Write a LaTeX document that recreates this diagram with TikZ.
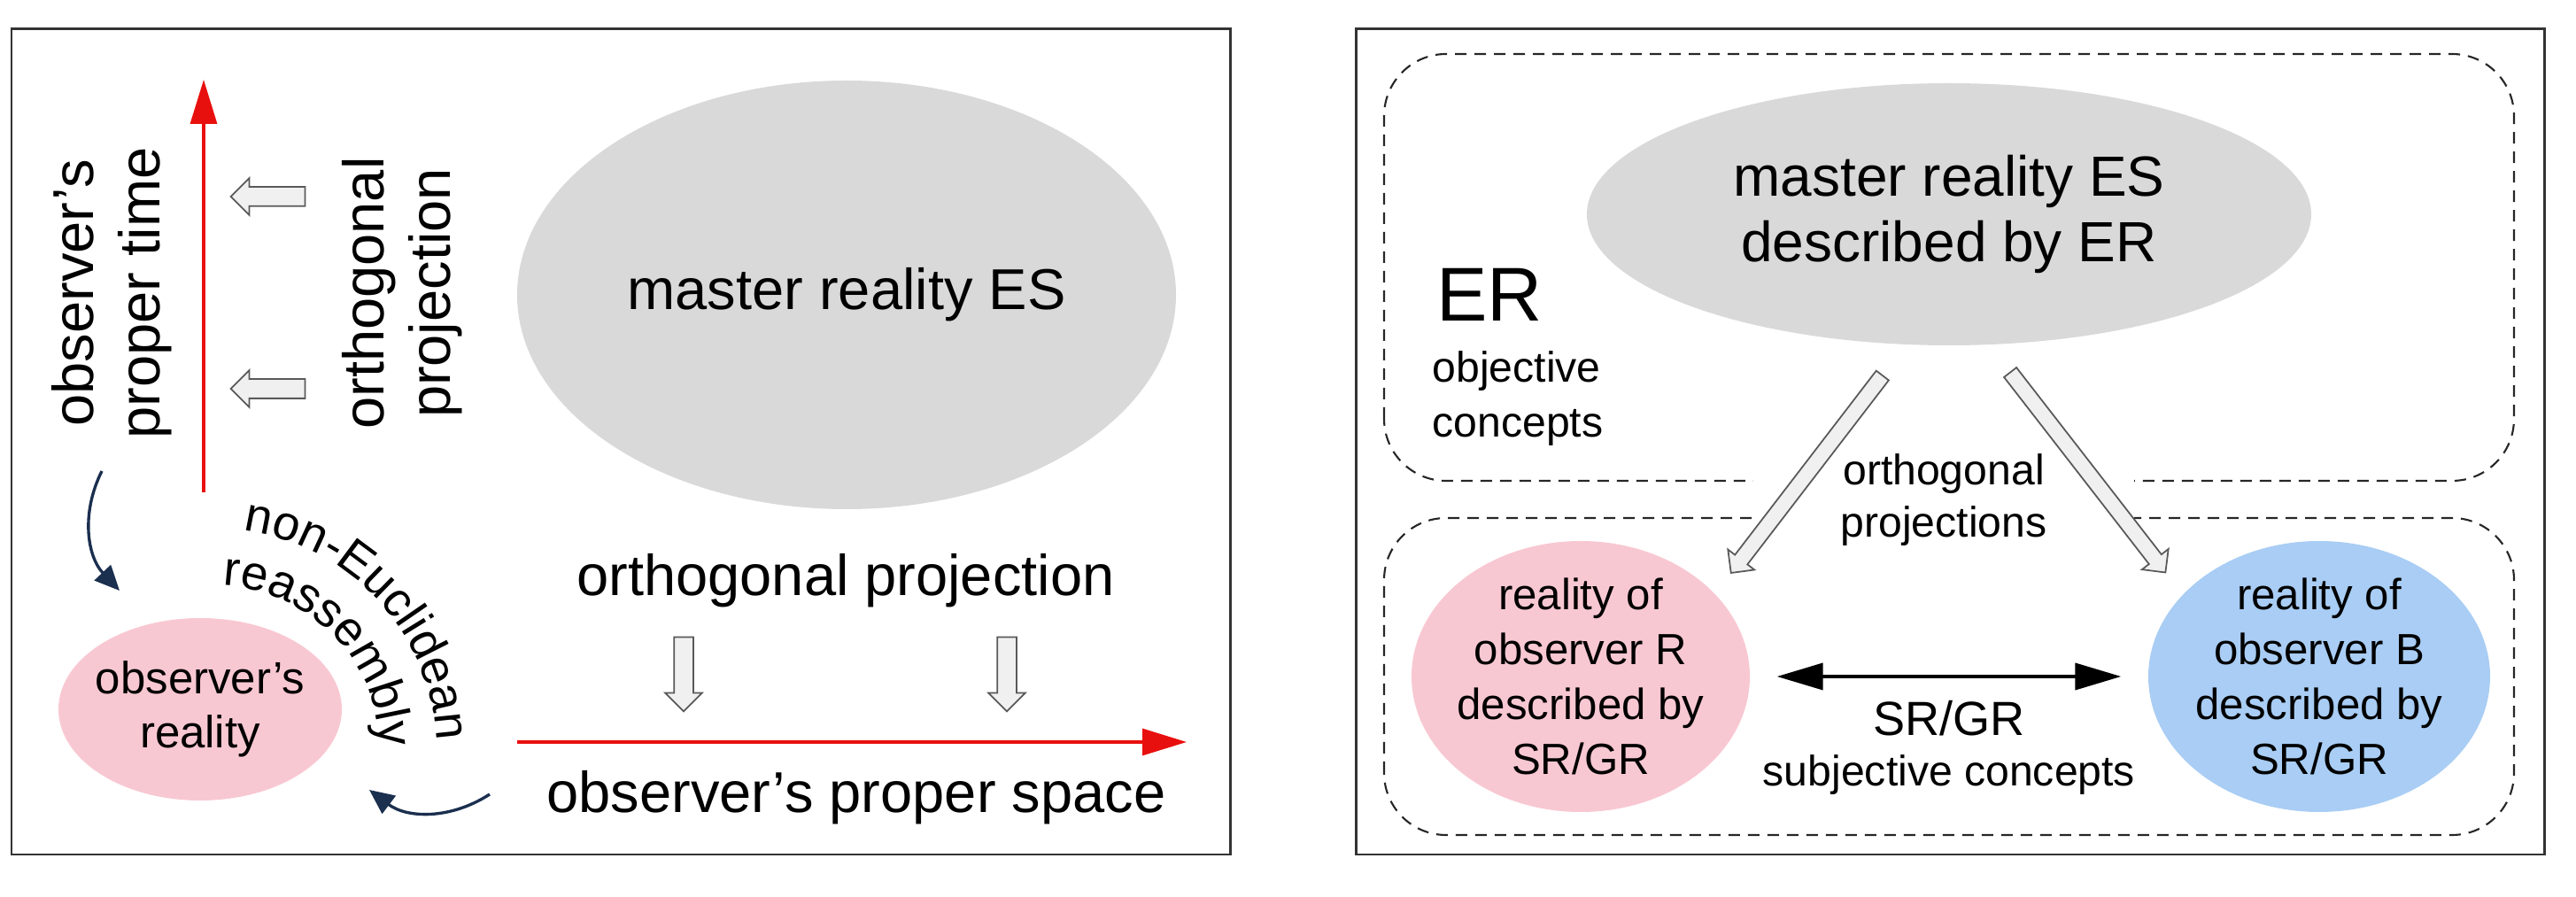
\documentclass[tikz,border=0pt]{standalone}
\usepackage{fontspec}
\setmainfont{Liberation Sans}
\usetikzlibrary{arrows.meta, shapes.geometric, shapes.arrows, decorations.text, positioning}
\definecolor{esgray}{HTML}{D9D9D9}
\definecolor{obspink}{HTML}{F8C8D2}
\definecolor{obsblue}{HTML}{A9CDF4}
\definecolor{axisred}{HTML}{E8100E}
\definecolor{hooknavy}{HTML}{1B2F4F}
\newcommand\bigfont{\fontsize{18.5}{21.3}\selectfont}
\newcommand\esfont{\fontsize{18.2}{21}\selectfont}
\newcommand\midfont{\fontsize{14.5}{17.4}\selectfont}
\newcommand\smallfont{\fontsize{14}{17.6}\selectfont}
\newcommand\arcfont{\fontsize{15.6}{18}\selectfont}

\begin{document}
\begin{tikzpicture}[frame/.style={draw=black!80, line width=0.85pt}, zone/.style={draw=black!85, line width=0.6pt, dash pattern=on 0.13cm off 0.09cm, rounded corners=0.7cm},
axis/.style={-{Triangle[length=0.5cm, width=0.3cm]}, draw=axisred, line width=0.9pt}, hook/.style={-{Triangle[length=0.28cm, width=0.25cm]}, draw=hooknavy, line width=0.95pt},
proj/.style={single arrow, draw=black!65, fill=black!6, line width=0.5pt, inner xsep=0pt, inner ysep=0.1cm, single arrow head extend=0.1cm, minimum height=0.84cm},
blob/.style={ellipse, inner sep=0pt}, dbl/.style={{Triangle[length=0.52cm, width=0.3cm]}-{Triangle[length=0.52cm, width=0.3cm]}, line width=1.1pt, shorten <=0.3cm, shorten >=0.3cm}]
\useasboundingbox (0,0) rectangle (29.09,10.13);

\draw[frame] (0.13,0.48) rectangle (13.89,9.80); \draw[frame] (15.31,0.48) rectangle (28.73,9.80);

\node[blob, fill=esgray, minimum width=7.44cm, minimum height=4.84cm, font=\bigfont] (esL) at (9.56,6.80) {master reality ES};
\node[blob, fill=obspink, minimum width=3.2cm, minimum height=2.06cm] (obsL) at (2.26,2.12) {}; \node[align=center, font=\midfont] (obsLtxt) at (obsL) {observer’s\\reality};
\node[rotate=90, align=center, font=\bigfont] (timelab) at (1.26,6.82) {observer’s\\proper time}; \node[rotate=90, align=center, font=\bigfont] (projV) at (4.54,6.82) {orthogonal\\projection};
\node[font=\bigfont] (projH) at (9.55,3.57) {orthogonal projection}; \node[font=\bigfont] (spacelab) at (9.67,1.12) {observer’s proper space};

\coordinate (t0) at (2.30,4.57); \coordinate (t1) at (2.30,9.23); \draw[axis] (t0) -- (t1);
\coordinate (s0) at (5.84,1.75); \coordinate (s1) at (13.40,1.75); \draw[axis] (s0) -- (s1);
\node[proj, rotate=180] (pt1) at (3.08,7.91) {}; \node[proj, rotate=180] (pt2) at (3.08,5.74) {};
\node[proj, rotate=-90] (ps1) at (7.72,2.57) {}; \node[proj, rotate=-90] (ps2) at (11.37,2.57) {};
\coordinate (h1a) at (1.15,4.81); \coordinate (h1b) at (1.35,3.46); \draw[hook] (h1a) to[bend right=35] (h1b);
\coordinate (h2a) at (5.53,1.16); \coordinate (h2b) at (4.17,1.21); \draw[hook] (h2a) to[bend left=35] (h2b);
\coordinate (arcO) at (2.42,1.65);
\path[decorate, decoration={text along path, text align=center, text={|\arcfont|non-Euclidean}}] ([shift={(92.5:2.51)}]arcO) arc[start angle=92.5, end angle=-7.5, radius=2.51];
\path[decorate, decoration={text along path, text align=center, text={|\arcfont|reassembly}}] ([shift={(104.25:1.87)}]arcO) arc[start angle=104.25, end angle=-15.75, radius=1.87];

\draw[zone] (15.63,4.70) rectangle (28.39,9.52); \draw[zone] (15.63,0.70) rectangle (28.39,4.28);
\node[blob, fill=esgray, minimum width=8.18cm, minimum height=2.96cm, align=center, font=\esfont] (esR) at (22.01,7.71) {master reality ES\\described by ER};
\node[font=\fontsize{24.5}{28}\selectfont] (er) at (16.82,6.80) {ER};
\node[align=left, anchor=west, inner sep=0pt, font=\fontsize{13.7}{17.4}\selectfont] (objlab) at (16.17,5.63) {objective\\concepts};
\node[align=center, fill=white, minimum width=4.3cm, font=\fontsize{13.7}{16.8}\selectfont] (projR) at (21.95,4.48) {orthogonal\\projections};
\node[proj, rotate=232.5, inner ysep=0.08cm, minimum height=2.81cm] (pr1) at (20.43,4.81) {};
\node[proj, rotate=-52.2, inner ysep=0.08cm, minimum height=2.86cm] (pr2) at (23.55,4.83) {};
\node[blob, fill=obspink, minimum width=3.82cm, minimum height=3.06cm] (R) at (17.85,2.49) {}; \node[align=center, font=\smallfont] (Rtxt) at (R) {reality of\\observer R\\described by\\SR/GR};
\node[blob, fill=obsblue, minimum width=3.86cm, minimum height=3.06cm] (B) at (26.19,2.49) {}; \node[align=center, font=\smallfont] (Btxt) at (B) {reality of\\observer B\\described by\\SR/GR};
\draw[dbl] (R) -- (B);
\node[font=\fontsize{15.4}{18}\selectfont] (srgr) at (22.01,2.02) {SR/GR}; \node[font=\fontsize{13.7}{16}\selectfont] (subj) at (22.01,1.38) {subjective concepts};
\end{tikzpicture}
\end{document}
